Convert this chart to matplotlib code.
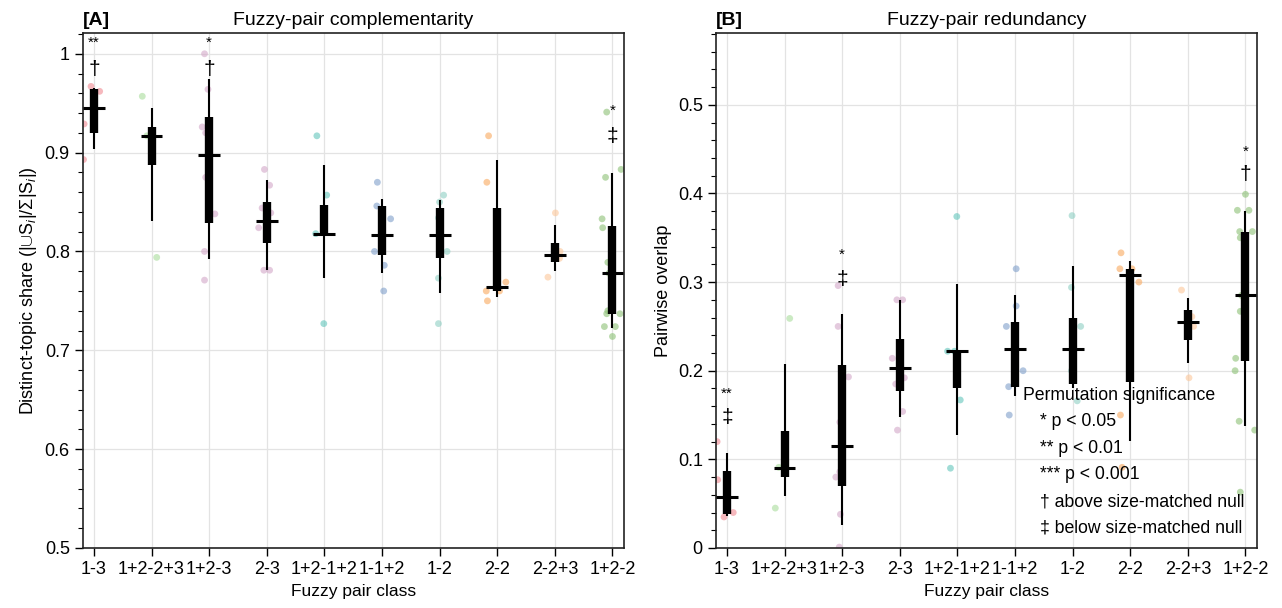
import numpy as np
import matplotlib.pyplot as plt

plt.rcParams['font.family'] = ['Liberation Sans', 'DejaVu Sans']
plt.rcParams['mathtext.fontset'] = 'custom'
plt.rcParams['mathtext.rm'] = 'Liberation Sans'
plt.rcParams['mathtext.it'] = 'Liberation Sans:italic'

classes = ['1-3', '1+2-2+3', '1+2-3', '2-3', '1+2-1+2', '1-1+2', '1-2', '2-2', '2-2+3', '1+2-2']
colors = ['#f08a92', '#a9dc9c', '#d3a8c8', '#d3a8c8', '#62c6bc', '#7f9fca',
          '#8fd0c4', '#f9a95e', '#fcc79a', '#8cc175']

# panel A: complementarity -- (whisker lo, q1, median, q3, whisker hi)
comp_stats = [
    (0.904, 0.920, 0.945, 0.964, 0.965),
    (0.831, 0.887, 0.917, 0.926, 0.945),
    (0.792, 0.829, 0.898, 0.936, 0.974),
    (0.781, 0.809, 0.831, 0.850, 0.872),
    (0.773, 0.817, 0.818, 0.847, 0.887),
    (0.778, 0.796, 0.817, 0.846, 0.853),
    (0.758, 0.793, 0.817, 0.844, 0.852),
    (0.754, 0.760, 0.764, 0.844, 0.893),
    (0.780, 0.789, 0.796, 0.809, 0.827),
    (0.723, 0.737, 0.778, 0.826, 0.879),
]
comp_pts = [
    [(-0.05, 0.967), (0.10, 0.962), (-0.17, 0.929), (-0.18, 0.893), (0.0, 0.950)],
    [(-0.16, 0.957), (0.09, 0.794), (-0.08, 0.917)],
    [(-0.08, 1.000), (-0.02, 0.964), (-0.12, 0.926), (-0.06, 0.920), (-0.06, 0.875),
     (0.10, 0.838), (-0.08, 0.800), (-0.08, 0.771)],
    [(-0.04, 0.883), (0.05, 0.867), (-0.08, 0.844), (0.07, 0.839), (-0.14, 0.824),
     (-0.05, 0.781), (0.05, 0.781)],
    [(-0.13, 0.917), (0.04, 0.857), (-0.15, 0.818), (-0.01, 0.727)],
    [(-0.08, 0.870), (-0.09, 0.846), (0.15, 0.833), (-0.13, 0.800), (0.04, 0.786), (0.03, 0.760)],
    [(0.07, 0.857), (0.0, 0.850), (-0.02, 0.834), (0.13, 0.800), (-0.02, 0.773), (-0.02, 0.727)],
    [(-0.15, 0.917), (-0.18, 0.870), (0.15, 0.769), (-0.19, 0.760), (0.04, 0.760), (-0.17, 0.750)],
    [(0.01, 0.839), (0.09, 0.800), (0.08, 0.793), (-0.12, 0.774)],
    [(-0.10, 0.941), (0.15, 0.883), (-0.12, 0.875), (-0.18, 0.833), (-0.17, 0.824),
     (-0.08, 0.789), (-0.08, 0.740), (0.13, 0.737), (-0.10, 0.737), (-0.14, 0.724),
     (0.05, 0.724), (0.0, 0.714), (-0.06, 0.778)],
]
comp_sig = {0: ('**', '†'), 2: ('*', '†'), 9: ('*', '‡')}
comp_sig_y = {0: (1.011, 0.984), 2: (1.011, 0.984), 9: (0.942, 0.916)}

# panel B: redundancy
red_stats = [
    (0.036, 0.038, 0.058, 0.087, 0.107),
    (0.059, 0.080, 0.090, 0.132, 0.208),
    (0.026, 0.070, 0.115, 0.207, 0.264),
    (0.148, 0.177, 0.203, 0.236, 0.280),
    (0.128, 0.181, 0.222, 0.222, 0.298),
    (0.172, 0.182, 0.225, 0.255, 0.285),
    (0.180, 0.185, 0.225, 0.260, 0.318),
    (0.121, 0.187, 0.308, 0.315, 0.324),
    (0.209, 0.235, 0.255, 0.268, 0.282),
    (0.138, 0.211, 0.285, 0.356, 0.380),
]
red_pts = [
    [(-0.17, 0.120), (-0.16, 0.077), (-0.05, 0.035), (0.11, 0.040)],
    [(0.09, 0.259), (-0.16, 0.045), (-0.10, 0.091)],
    [(-0.07, 0.296), (-0.07, 0.250), (0.11, 0.193), (-0.04, 0.142), (-0.04, 0.086),
     (-0.11, 0.080), (-0.03, 0.038), (-0.05, 0.001)],
    [(-0.05, 0.280), (0.05, 0.280), (-0.13, 0.214), (-0.07, 0.185), (0.08, 0.192),
     (0.05, 0.154), (-0.04, 0.133)],
    [(-0.17, 0.222), (-0.05, 0.222), (0.05, 0.167), (-0.12, 0.090), (-0.01, 0.374)],
    [(0.02, 0.315), (0.02, 0.273), (-0.15, 0.250), (0.14, 0.200), (-0.11, 0.182), (-0.10, 0.150)],
    [(-0.01, 0.375), (-0.02, 0.294), (0.14, 0.250), (-0.02, 0.200), (0.08, 0.166)],
    [(-0.16, 0.333), (-0.18, 0.315), (0.03, 0.315), (0.15, 0.300), (-0.17, 0.150), (-0.14, 0.091)],
    [(-0.11, 0.291), (0.07, 0.261), (0.10, 0.250), (0.02, 0.192)],
    [(0.0, 0.399), (-0.14, 0.381), (0.06, 0.381), (-0.10, 0.357), (0.12, 0.357),
     (-0.09, 0.350), (-0.09, 0.267), (-0.07, 0.285), (-0.17, 0.214), (-0.18, 0.200),
     (-0.11, 0.143), (0.16, 0.133), (-0.09, 0.063)],
]
red_sig = {0: ('**', '‡'), 2: ('*', '‡'), 9: ('*', '†')}
red_sig_y = {0: (0.174, 0.147), 2: (0.331, 0.303), 9: (0.447, 0.421)}

legend_lines = ['Permutation significance', '* p < 0.05', '** p < 0.01', '*** p < 0.001',
                '† above size-matched null', '‡ below size-matched null']


def draw_panel(ax, stats, pts, sig, sig_y):
    x = np.arange(len(classes))
    for i in x:
        px = [i + p[0] for p in pts[i]]
        py = [p[1] for p in pts[i]]
        ax.scatter(px, py, s=24, color=colors[i], alpha=0.6, edgecolors='none', zorder=2)
    lo = [s[0] for s in stats]
    q1 = [s[1] for s in stats]
    med = [s[2] for s in stats]
    q3 = [s[3] for s in stats]
    hi = [s[4] for s in stats]
    ax.vlines(x, lo, hi, color='black', lw=1.5, zorder=3)
    ax.vlines(x, q1, q3, color='black', lw=6, zorder=3)
    ax.hlines(med, x - 0.19, x + 0.19, color='black', lw=2.2, zorder=4)
    for i, (s1, s2) in sig.items():
        ax.text(i, sig_y[i][0], s1, ha='center', va='center', fontsize=11)
        ax.text(i, sig_y[i][1], s2, ha='center', va='center', fontsize=15)
    ax.set_xticks(x)
    ax.set_xticklabels(classes)
    ax.set_xlim(-0.19, 9.2)
    ax.grid(True, color='#e3e3e3', lw=0.9)
    ax.set_axisbelow(True)
    ax.minorticks_on()
    ax.tick_params(axis='x', which='minor', bottom=False)
    ax.tick_params(which='major', direction='out', length=6, width=1, labelsize=13)
    ax.tick_params(which='minor', direction='out', length=3.5, width=0.8)
    ax.set_xlabel('Fuzzy pair class', fontsize=12.5)
    for sp in ax.spines.values():
        sp.set_linewidth(1.2)
        sp.set_color('#222222')


fig, (ax1, ax2) = plt.subplots(1, 2, figsize=(12.82, 6.08), dpi=100)
fig.subplots_adjust(left=0.0647, right=0.9805, top=0.9457, bottom=0.0987, wspace=0.17)

draw_panel(ax1, comp_stats, comp_pts, comp_sig, comp_sig_y)
ax1.set_ylim(0.5, 1.021)
ax1.set_yticks([0.5, 0.6, 0.7, 0.8, 0.9, 1.0])
ax1.set_yticklabels(['0.5', '0.6', '0.7', '0.8', '0.9', '1'])
ax1.set_ylabel(r'Distinct-topic share (|$\cup$S$_i$|/Σ|S$_i$|)', fontsize=13)
ax1.set_title('Fuzzy-pair complementarity', fontsize=14)
ax1.set_title('[A]', loc='left', fontsize=14, fontweight='bold')

draw_panel(ax2, red_stats, red_pts, red_sig, red_sig_y)
ax2.set_ylim(0, 0.581)
ax2.set_yticks([0, 0.1, 0.2, 0.3, 0.4, 0.5])
ax2.set_yticklabels(['0', '0.1', '0.2', '0.3', '0.4', '0.5'])
ax2.set_ylabel('Pairwise overlap', fontsize=13)
ax2.set_title('Fuzzy-pair redundancy', fontsize=14)
ax2.set_title('[B]', loc='left', fontsize=14, fontweight='bold')

for k, line in enumerate(legend_lines):
    xx = 0.567 if k == 0 else 0.598
    ax2.text(xx, 0.297 - k * 0.0517, line, transform=ax2.transAxes,
             fontsize=12.7, va='center', ha='left', zorder=5)

fig.savefig('out.png', dpi=100)
